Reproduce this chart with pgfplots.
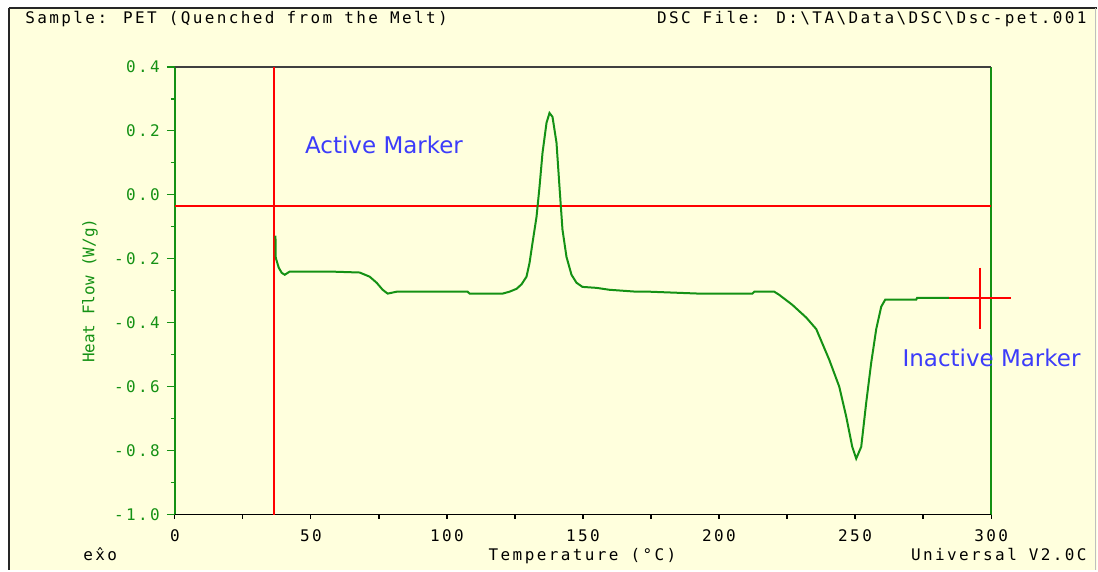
\documentclass[border=0pt]{standalone}
\usepackage{fontspec}
\usepackage{pgfplots}
\pgfplotsset{compat=1.18}
\newfontfamily\dsc[LetterSpace=15]{DejaVu Sans Mono}
\newfontfamily\dscy{DejaVu Sans Mono}
\newfontfamily\mk{DejaVu Sans}
\definecolor{bgcream}{RGB}{255,255,221}
\definecolor{dscgreen}{RGB}{20,145,20}
\definecolor{mkblue}{RGB}{60,60,250}

\begin{document}
\begin{tikzpicture}[x=0.5pt,y=-0.5pt]
% page and frame
\fill[white] (0,0) rectangle (1098,571);
\fill[bgcream] (9,8) rectangle (1098,571);
\draw[black!85, line width=1.1pt] (9,8) -- (9,571);
\draw[black!85, line width=1pt] (9,8) -- (1098,8);
\draw[gray!50, line width=0.5pt] (1096.5,8) -- (1096.5,571);
\coordinate (axpos) at (175,515);

\begin{axis}[
    at={(axpos)}, anchor=south west,
    width=408.5pt, height=224pt, scale only axis,
    xmin=0, xmax=300, ymin=-1, ymax=0.4,
    axis line style={draw=none},
    clip=false,
    tick align=outside,
    xtick pos=bottom, ytick pos=left,
    xtick={0,50,100,150,200,250,300},
    minor xtick={0,25,50,75,100,125,150,175,200,225,250,275,300},
    major x tick style={draw=none},
    minor x tick style={black, line width=0.6pt},
    ytick={-1,-0.8,-0.6,-0.4,-0.2,0,0.2,0.4},
    minor y tick num=1,
    ytick style={dscgreen, line width=0.6pt},
    minor y tick style={dscgreen, line width=0.6pt},
    major tick length=4pt, minor tick length=2pt,
    /pgf/number format/assume math mode=true,
    xticklabel style={font=\dsc\fontsize{8}{9}\selectfont, text=black},
    yticklabel style={font=\dsc\fontsize{8}{9}\selectfont, text=dscgreen,
        /pgf/number format/.cd, fixed, fixed zerofill, precision=1},
]
% frame lines of the plot box
\draw[dscgreen, line width=0.8pt] (rel axis cs:0,0) -- (rel axis cs:0,1);
\draw[dscgreen, line width=0.8pt] (rel axis cs:1,0) -- (rel axis cs:1,1);
\draw[black!75, line width=1pt] (rel axis cs:0,1) -- (rel axis cs:1,1);
\draw[black, line width=0.8pt] (rel axis cs:0,0) -- (rel axis cs:1,0);

% active marker
\addplot[red, line width=1pt] coordinates {(36.4,-1) (36.4,0.4)};
\addplot[red, line width=1pt] coordinates {(0,-0.034) (300,-0.034)};

% DSC curve
\addplot[dscgreen, line width=1pt] coordinates {
(36.98,-0.128) (37.09,-0.197) (38.19,-0.228) (39.29,-0.244) (40.39,-0.250)
(42.23,-0.240) (56.92,-0.240) (67.93,-0.243) (71.60,-0.256) (74.17,-0.275)
(76.38,-0.297) (78.21,-0.309) (81.52,-0.303) (107.59,-0.303) (108.32,-0.309)
(120.44,-0.309) (123.01,-0.303) (125.58,-0.294) (127.42,-0.280) (129.25,-0.256)
(130.36,-0.213) (131.46,-0.150) (132.93,-0.069) (134.03,0.025) (135.13,0.131)
(136.60,0.225) (137.70,0.256) (138.80,0.244) (140.27,0.163) (141.37,0.025)
(142.47,-0.109) (143.94,-0.194) (145.78,-0.250) (147.62,-0.275) (149.82,-0.288)
(154.96,-0.291) (159.73,-0.297) (169.65,-0.303) (174.42,-0.303) (192.78,-0.309)
(212.24,-0.309) (212.98,-0.303) (220.32,-0.303) (222.16,-0.313) (226.93,-0.344)
(232.07,-0.384) (235.74,-0.420) (240.52,-0.516) (244.19,-0.600) (246.76,-0.694)
(248.96,-0.788) (250.43,-0.825) (252.27,-0.788) (254.10,-0.650) (255.94,-0.525)
(257.78,-0.420) (259.61,-0.350) (261.08,-0.328) (272.46,-0.328) (272.83,-0.322)
(284.58,-0.322)
};

% inactive marker
\addplot[red, line width=1pt] coordinates {(284.6,-0.322) (307.3,-0.322)};
\addplot[red, line width=1pt] coordinates {(296.0,-0.228) (296.0,-0.419)};
\end{axis}

% texts
\begin{scope}[every node/.style={inner sep=0pt}]
\node[anchor=base west, font=\dsc\fontsize{8}{9}\selectfont] at (25,24)
    {Sample: PET (Quenched from the Melt)};
\node[anchor=base east, font=\dsc\fontsize{8}{9}\selectfont] at (1088,24)
    {DSC File: D:\textbackslash TA\textbackslash Data\textbackslash DSC\textbackslash Dsc-pet.001};
\node[anchor=base west, font=\dsc\fontsize{8}{9}\selectfont] at (83,561) {e\^{x}o};
\node[anchor=base, font=\dsc\fontsize{8}{9}\selectfont] at (583,561) {Temperature (°C)};
\node[anchor=base east, font=\dsc\fontsize{8}{9}\selectfont] at (1088,561) {Universal V2.0C};
\node[rotate=90, font=\dscy\fontsize{8}{9}\selectfont, text=dscgreen] at (90,291) {Heat Flow (W/g)};
\node[anchor=base west, font=\mk\fontsize{11.5}{13}\selectfont, text=mkblue] at (305,154) {Active Marker};
\node[anchor=base west, font=\mk\fontsize{11.5}{13}\selectfont, text=mkblue] at (903,367) {Inactive Marker};
\end{scope}
\end{tikzpicture}
\end{document}
